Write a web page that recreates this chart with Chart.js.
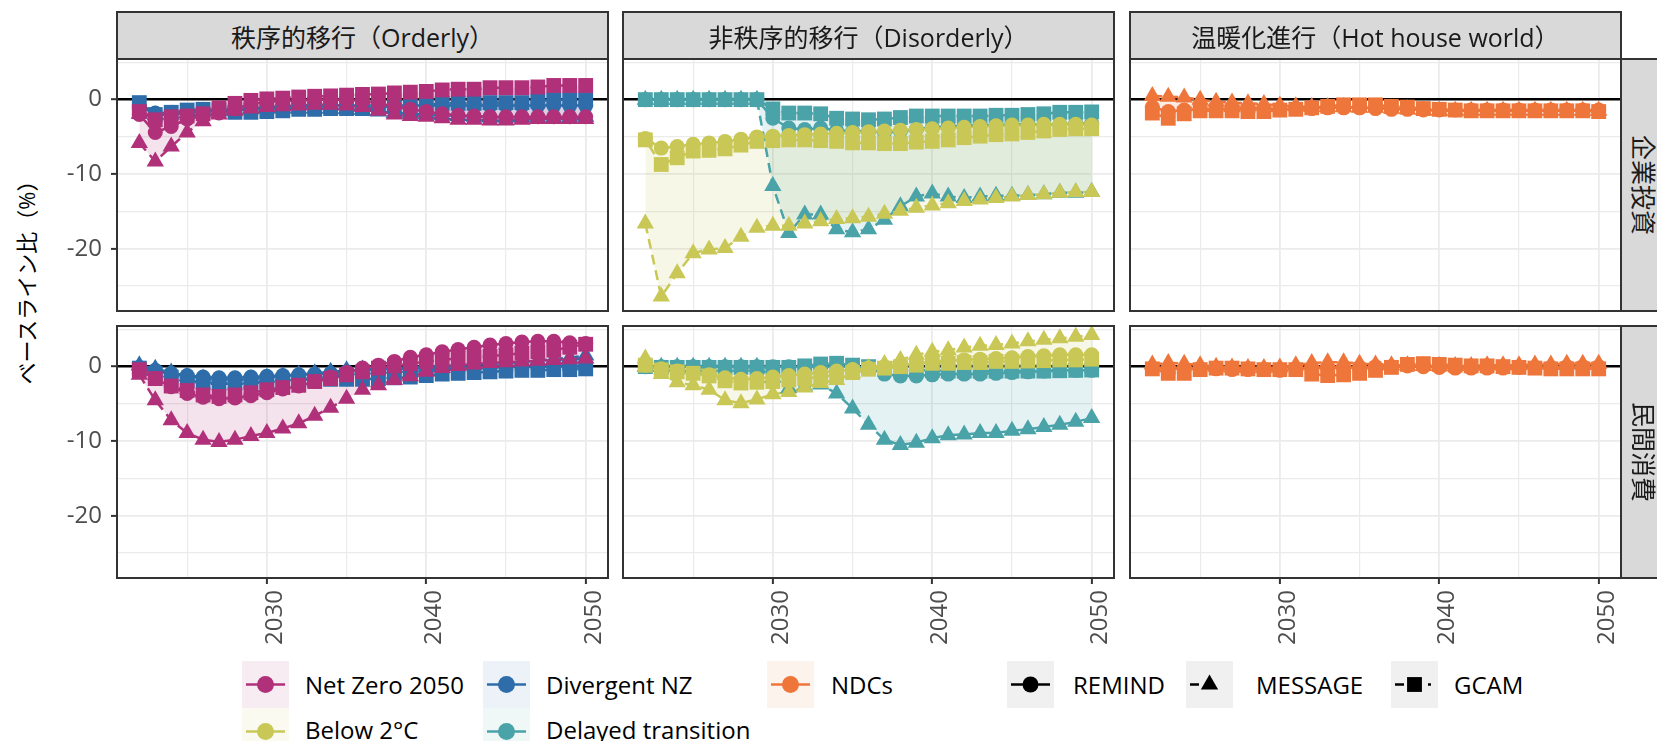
<!DOCTYPE html>
<html lang="ja">
<head>
<meta charset="utf-8">
<script src="https://cdn.jsdelivr.net/npm/chart.js@4/dist/chart.umd.min.js"></script>
<style>
  html, body { margin: 0; padding: 0; background: #fff; }
  body { width: 1657px; height: 741px; position: relative; overflow: hidden;
         font-family: "Open Sans", "Noto Sans CJK JP", sans-serif; }
  canvas { position: absolute; display: block; }
  .strip { position: absolute; box-sizing: border-box; background: #D9D9D9;
           border: 2px solid #333333; color: #1A1A1A; font-size: 25px;
           display: flex; align-items: center; justify-content: center; white-space: nowrap; }
  .strip .rot { display: inline-block; transform: rotate(90deg); }
  #ytitle { position: absolute; left: 25px; top: 277px; transform: translate(-50%, -50%) rotate(-90deg);
            font-size: 22px; color: #000; white-space: nowrap; }
  .lgtext { position: absolute; font-size: 24px; color: #000; white-space: nowrap; transform: translateY(-50%); }
</style>
</head>
<body>
<div id="ytitle">ベースライン比（%）</div>
<script>
// ---- data -----------------------------------------------------------------
const years = [2022, 2023, 2024, 2025, 2026, 2027, 2028, 2029, 2030, 2031, 2032, 2033, 2034, 2035,
               2036, 2037, 2038, 2039, 2040, 2041, 2042, 2043, 2044, 2045, 2046, 2047, 2048, 2049, 2050];

const columnTitles = ['秩序的移行（Orderly）', '非秩序的移行（Disorderly）', '温暖化進行（Hot house world）'];
const rowTitles = ['企業投資', '民間消費'];
const scenarioNames = ['Net Zero 2050', 'Below 2°C', 'Divergent NZ', 'Delayed transition', 'NDCs'];
const modelNames = ['REMIND', 'MESSAGE', 'GCAM'];
const yTickValues = [0, -10, -20];
const xTickValues = [2030, 2040, 2050];

// Orderly – 企業投資
const nzInvRemind  = [-2.0,-4.4,-3.6,-2.6,-2.2,-1.8,-1.2,-0.6,-0.3,-0.2,-0.1,0.0,0.0,0.0,-0.2,-0.5,-0.9,-1.3,-1.6,-1.9,-2.1,-2.2,-2.3,-2.3,-2.3,-2.3,-2.3,-2.3,-2.3];
const nzInvMessage = [-5.8,-8.3,-6.3,-4.4,-2.9,-2.0,-1.5,-1.2,-1.0,-0.9,-0.8,-0.7,-0.7,-0.8,-1.0,-1.5,-2.0,-2.2,-2.3,-2.5,-2.7,-2.7,-2.8,-2.8,-2.7,-2.6,-2.6,-2.6,-2.6];
const nzInvGcam    = [-1.6,-2.7,-2.3,-2.2,-1.9,-1.1,-0.5,-0.1,0.1,0.2,0.35,0.45,0.5,0.6,0.7,0.75,0.9,1.0,1.1,1.3,1.4,1.4,1.6,1.6,1.6,1.7,1.9,1.9,1.9];
const divInvRemind  = [-1.0,-1.8,-1.8,-1.6,-1.5,-1.4,-1.3,-1.2,-1.1,-1.0,-0.9,-0.9,-0.8,-0.8,-0.8,-0.8,-0.8,-0.8,-0.8,-0.8,-0.8,-0.8,-0.8,-0.8,-0.8,-0.8,-0.8,-0.8,-0.8];
const divInvMessage = [-1.9,-2.1,-2.0,-1.8,-1.6,-1.5,-1.4,-1.3,-1.2,-1.2,-1.2,-1.2,-1.2,-1.3,-1.4,-1.6,-1.8,-1.9,-2.0,-2.1,-2.2,-2.3,-2.4,-2.4,-2.4,-2.4,-2.4,-2.4,-2.3];
const divInvGcam    = [-0.4,-2.0,-1.7,-1.4,-1.3,-1.4,-1.7,-1.7,-1.6,-1.5,-1.3,-1.3,-1.2,-1.2,-1.2,-1.0,-0.9,-0.8,-0.7,-0.5,-0.5,-0.5,-0.4,-0.4,-0.4,-0.2,0.0,0.0,0.0];

// Orderly – 民間消費
const nzConRemind  = [-0.5,-1.6,-2.7,-3.6,-4.1,-4.3,-4.2,-3.9,-3.5,-3.0,-2.6,-2.0,-1.4,-0.8,-0.2,0.2,0.7,1.25,1.6,2.0,2.3,2.6,2.9,3.1,3.3,3.4,3.4,3.2,3.1];
const nzConMessage = [-1.1,-4.5,-7.2,-8.9,-9.8,-10.1,-9.8,-9.3,-8.9,-8.3,-7.6,-6.6,-5.5,-4.3,-3.1,-2.5,-1.8,-1.3,-0.7,-0.2,0.1,0.3,0.5,0.6,0.7,0.8,0.9,1.0,1.1];
const nzConGcam    = [-0.4,-1.6,-2.6,-3.2,-3.8,-4.0,-3.8,-3.5,-3.1,-2.8,-2.5,-2.0,-1.6,-1.1,-0.7,-0.2,0.1,0.4,0.7,0.9,1.1,1.25,1.4,1.6,1.8,2.0,2.2,2.6,3.0];
const divConRemind  = [-0.1,-0.5,-0.9,-1.2,-1.4,-1.5,-1.5,-1.4,-1.3,-1.2,-1.1,-1.0,-0.9,-0.7,-0.5,-0.4,-0.3,-0.3,-0.2,-0.2,-0.1,-0.1,0.0,0.0,0.0,0.0,0.1,0.1,0.1];
const divConMessage = [0.2,-0.3,-0.8,-1.3,-1.6,-1.8,-1.8,-1.7,-1.5,-1.3,-1.1,-0.9,-0.7,-0.5,-0.4,-0.3,-0.2,-0.1,0.0,0.1,0.2,0.3,0.4,0.5,0.6,0.8,1.0,1.2,1.5];
const divConGcam    = [-0.2,-0.9,-1.4,-1.9,-2.1,-2.2,-2.2,-2.1,-2.0,-1.9,-1.8,-1.7,-1.7,-1.7,-1.7,-1.6,-1.5,-1.4,-1.2,-1.0,-0.9,-0.8,-0.7,-0.6,-0.5,-0.5,-0.4,-0.4,-0.3];

// Disorderly – 企業投資
const b2InvRemind  = [-5.2,-6.5,-6.3,-6.0,-5.8,-5.6,-5.3,-5.0,-4.9,-4.8,-4.7,-4.6,-4.5,-4.4,-4.3,-4.2,-4.1,-4.0,-3.9,-3.8,-3.7,-3.6,-3.5,-3.4,-3.4,-3.3,-3.3,-3.3,-3.4];
const b2InvMessage = [-16.6,-26.4,-23.3,-20.6,-20.1,-19.9,-18.4,-17.2,-16.9,-16.9,-16.6,-16.3,-16.0,-15.9,-15.7,-15.3,-14.9,-14.5,-14.2,-13.9,-13.6,-13.4,-13.2,-13.0,-12.8,-12.7,-12.5,-12.4,-12.4];
const b2InvGcam    = [-5.4,-8.7,-7.8,-6.9,-6.8,-6.6,-6.1,-5.6,-5.5,-5.4,-5.4,-5.5,-5.6,-5.8,-5.8,-5.9,-5.9,-5.7,-5.6,-5.4,-5.1,-4.9,-4.7,-4.6,-4.4,-4.2,-4.0,-3.9,-3.9];
const dtInvRemind  = [0,0,0,0,0,0,0,0,-2.5,-3.8,-4.0,-3.8,-4.1,-4.25,-4.25,-4.4,-4.25,-4.0,-3.7,-3.6,-3.5,-3.4,-3.4,-3.35,-3.3,-3.3,-3.3,-3.2,-3.2];
const dtInvMessage = [0,0,0,0,0,0,0,0,-11.6,-17.9,-15.4,-15.4,-17.4,-17.8,-17.4,-16.1,-14.3,-13.0,-12.6,-13.0,-13.2,-13.0,-12.9,-12.9,-12.8,-12.7,-12.5,-12.5,-12.4];
const dtInvGcam    = [0,0,0,0,0,0,0,0,-1.25,-1.8,-1.8,-1.9,-2.5,-2.6,-2.7,-2.6,-2.4,-2.2,-2.2,-2.2,-2.2,-2.2,-2.1,-2.1,-2.0,-1.9,-1.7,-1.7,-1.65];

// Disorderly – 民間消費
const b2ConRemind  = [0.2,-0.3,-0.6,-0.9,-1.1,-1.5,-1.7,-1.6,-1.4,-1.2,-1.0,-0.8,-0.6,-0.4,-0.2,0.0,0.2,0.4,0.7,0.8,0.9,1.0,1.1,1.2,1.35,1.45,1.6,1.6,1.6];
const b2ConMessage = [1.1,-1.0,-2.1,-2.5,-3.1,-4.5,-4.9,-4.4,-3.7,-3.4,-2.8,-2.2,-1.8,-0.9,-0.2,0.35,0.9,1.6,2.0,2.2,2.55,2.8,2.9,3.1,3.4,3.6,3.8,4.0,4.25];
const b2ConGcam    = [0.2,-0.45,-0.7,-0.9,-1.25,-1.9,-2.2,-2.1,-2.0,-1.8,-1.6,-1.35,-1.1,-0.8,-0.35,-0.2,0.0,0.2,0.45,0.45,0.55,0.55,0.7,0.7,0.75,0.8,0.9,0.9,1.0];
const dtConRemind  = [0,0,0,0,0,0,0,0,0,0,0,0,0,0,-0.1,-1.0,-1.25,-1.25,-1.1,-1.0,-1.0,-1.0,-0.9,-0.8,-0.7,-0.6,-0.5,-0.5,-0.5];
const dtConMessage = [0,0,0,0,0,0,0,0,-1.5,-2.9,-2.7,-2.4,-3.6,-5.6,-7.8,-9.8,-10.5,-10.2,-9.6,-9.2,-9.1,-8.9,-8.9,-8.6,-8.4,-8.1,-7.8,-7.4,-6.9];
const dtConGcam    = [0,-0.1,-0.1,-0.1,-0.1,-0.1,-0.1,-0.1,-0.1,-0.1,0.1,0.35,0.45,0.2,0.0,-0.3,-0.4,-0.5,-0.5,-0.6,-0.6,-0.6,-0.6,-0.6,-0.6,-0.6,-0.55,-0.5,-0.45];

// Hot house world – 企業投資
const ndcInvRemind  = [-1.0,-1.6,-1.4,-1.3,-1.3,-1.3,-1.3,-1.3,-1.3,-1.2,-1.2,-1.1,-1.1,-1.1,-1.2,-1.3,-1.3,-1.4,-1.4,-1.4,-1.4,-1.4,-1.4,-1.4,-1.4,-1.4,-1.4,-1.4,-1.4];
const ndcInvMessage = [0.5,0.4,0.3,0.0,-0.3,-0.4,-0.5,-0.6,-0.8,-0.9,-1.0,-1.0,-1.0,-1.1,-1.1,-1.2,-1.3,-1.4,-1.5,-1.5,-1.5,-1.5,-1.5,-1.5,-1.5,-1.5,-1.5,-1.5,-1.5];
const ndcInvGcam    = [-1.8,-2.5,-1.9,-1.5,-1.5,-1.5,-1.6,-1.6,-1.4,-1.3,-1.1,-0.9,-0.7,-0.7,-0.7,-0.9,-1.0,-1.2,-1.3,-1.4,-1.5,-1.5,-1.5,-1.5,-1.5,-1.5,-1.5,-1.5,-1.6];

// Hot house world – 民間消費
const ndcConRemind  = [-0.2,-0.3,-0.3,-0.3,-0.3,-0.4,-0.4,-0.4,-0.5,-0.3,-0.2,-0.2,-0.2,-0.1,0.0,0.0,0.1,0.0,-0.1,-0.2,-0.2,-0.2,-0.2,-0.1,-0.1,-0.1,0.0,0.0,0.0];
const ndcConMessage = [0.3,0.5,0.4,0.2,0.0,-0.1,-0.2,-0.2,-0.1,0.2,0.5,0.6,0.6,0.4,0.3,0.2,0.2,0.1,0.1,0.1,0.1,0.2,0.2,0.2,0.3,0.3,0.4,0.4,0.4];
const ndcConGcam    = [-0.3,-0.9,-0.9,-0.4,-0.2,-0.2,-0.3,-0.4,-0.4,-0.4,-1.0,-1.2,-1.1,-0.9,-0.5,-0.1,0.3,0.4,0.3,0.2,0.1,0.1,0.0,-0.1,-0.2,-0.3,-0.3,-0.3,-0.3];

// ---- styling ----------------------------------------------------------------
const scenarioColors = ['#B0317A', '#C9C857', '#2E6DA9', '#4AA3A8', '#EE763B'];
const modelStyles = [
  { shape: 'circle',   radius: 7.5,  dash: [] },
  { shape: 'triangle', radius: 10,   dash: [10, 6] },
  { shape: 'rect',     radius: 10.5, dash: [2, 5, 10, 5] }
];
const FONT = '"Open Sans", "Noto Sans CJK JP", sans-serif';
Chart.defaults.font.family = FONT;

// facet layout (plot areas in page pixels)
const colLeft = [117, 623, 1130];
const rowTop = [59, 326];
const PW = 491, PH = 252;
const Y_MIN = -28.35, Y_MAX = 5.45, X_MIN = 2020.6, X_MAX = 2051.4;

// panel contents: scenario index + series per model (REMIND, MESSAGE, GCAM)
// groups are listed bottom-most first
const panels = [
  { row: 0, col: 0, groups: [[2, [divInvRemind, divInvMessage, divInvGcam]], [0, [nzInvRemind, nzInvMessage, nzInvGcam]]] },
  { row: 0, col: 1, groups: [[3, [dtInvRemind, dtInvMessage, dtInvGcam]], [1, [b2InvRemind, b2InvMessage, b2InvGcam]]] },
  { row: 0, col: 2, groups: [[4, [ndcInvRemind, ndcInvMessage, ndcInvGcam]]] },
  { row: 1, col: 0, groups: [[2, [divConRemind, divConMessage, divConGcam]], [0, [nzConRemind, nzConMessage, nzConGcam]]] },
  { row: 1, col: 1, groups: [[3, [dtConRemind, dtConMessage, dtConGcam]], [1, [b2ConRemind, b2ConMessage, b2ConGcam]]] },
  { row: 1, col: 2, groups: [[4, [ndcConRemind, ndcConMessage, ndcConGcam]]] }
];

function rgba(hex, a) {
  const n = parseInt(hex.slice(1), 16);
  return `rgba(${(n >> 16) & 255},${(n >> 8) & 255},${n & 255},${a})`;
}
const toXY = arr => years.map((yr, i) => ({ x: yr, y: arr[i] }));

function buildDatasets(groups) {
  const ribbons = [], lines = [], points = [];
  groups.forEach(([si, series], gi) => {
    const color = scenarioColors[si];
    const hi = years.map((_, i) => Math.max(...series.map(s => s[i])));
    const lo = years.map((_, i) => Math.min(...series.map(s => s[i])));
    // ribbon spanning the model range
    ribbons.push({ data: toXY(hi), fill: '+1', backgroundColor: rgba(color, 0.14), borderWidth: 0,
                   borderColor: 'rgba(0,0,0,0)', pointRadius: 0, order: 300 - gi });
    ribbons.push({ data: toXY(lo), fill: false, borderWidth: 0, borderColor: 'rgba(0,0,0,0)',
                   pointRadius: 0, order: 300 - gi });
    series.forEach((s, mi) => {
      const st = modelStyles[mi];
      lines.push({ data: toXY(s), borderColor: color, borderWidth: 2.5, borderDash: st.dash,
                   pointRadius: 0, fill: false, tension: 0, order: 200 - gi * 10 - mi });
      points.push({ data: toXY(s), showLine: false, pointStyle: st.shape, pointRadius: st.radius,
                    pointBackgroundColor: color, pointBorderWidth: 0, pointBorderColor: color,
                    fill: false, order: 100 - gi * 10 - mi });
    });
  });
  return [...ribbons, ...lines, ...points];
}

const panelFrame = {
  id: 'panelFrame',
  afterDraw(chart) {
    const { ctx, chartArea: a } = chart;
    ctx.save();
    ctx.strokeStyle = '#333333';
    ctx.lineWidth = 2;
    ctx.strokeRect(a.left, a.top, a.right - a.left, a.bottom - a.top);
    ctx.restore();
  }
};

const isMajor = v => Math.abs(Math.round(v) % 10) === 0 && Math.abs(v - Math.round(v)) < 1e-6;
// fixed axis band sizes, so every facet gets an identical plot area
const fixBand = (size, horizontal) => s => {
  if (horizontal) s.height = size; else s.width = size;
  s.paddingTop = 0; s.paddingBottom = 0; s.paddingLeft = 0; s.paddingRight = 0;
};

panels.forEach(p => {
  const showY = p.col === 0, showX = p.row === 1;
  const yAxisW = showY ? 80 : 0, xAxisH = showX ? 70 : 0, pad = 2;
  const cv = document.createElement('canvas');
  const w = pad + yAxisW + PW + pad, h = pad + PH + xAxisH + pad;
  cv.width = w; cv.height = h;
  cv.style.width = w + 'px'; cv.style.height = h + 'px';
  cv.style.left = (colLeft[p.col] - yAxisW - pad) + 'px';
  cv.style.top = (rowTop[p.row] - pad) + 'px';
  document.body.appendChild(cv);

  new Chart(cv, {
    type: 'line',
    data: { datasets: buildDatasets(p.groups) },
    options: {
      responsive: false, animation: false, devicePixelRatio: 1, events: [],
      layout: { padding: pad, autoPadding: false },
      plugins: { legend: { display: false }, tooltip: { enabled: false }, filler: { propagate: false } },
      scales: {
        x: {
          type: 'linear', position: 'bottom', min: X_MIN, max: X_MAX,
          afterFit: fixBand(xAxisH, true),
          border: { display: false },
          grid: {
            color: '#EBEBEB',
            lineWidth: c => (c.tick && isMajor(c.tick.value)) ? 1.8 : 1.2,
            drawTicks: showX, tickLength: 6, tickWidth: 2,
            tickColor: c => (c.tick && isMajor(c.tick.value)) ? '#333333' : 'rgba(0,0,0,0)'
          },
          ticks: {
            display: showX, stepSize: 5, includeBounds: false, autoSkip: false,
            minRotation: 90, maxRotation: 90, padding: 6, labelOffset: 8,
            color: '#4D4D4D', font: { size: 24, family: FONT },
            callback: v => xTickValues.includes(Math.round(v)) && isMajor(v) ? String(Math.round(v)) : ''
          }
        },
        y: {
          type: 'linear', position: 'left', min: Y_MIN, max: Y_MAX,
          afterFit: fixBand(yAxisW, false),
          border: { display: false },
          grid: {
            color: c => (c.tick && Math.abs(c.tick.value) < 1e-9) ? '#000000' : '#EBEBEB',
            lineWidth: c => {
              if (!c.tick) return 1.2;
              if (Math.abs(c.tick.value) < 1e-9) return 2.4;
              return isMajor(c.tick.value) ? 1.8 : 1.2;
            },
            drawTicks: showY, tickLength: 6, tickWidth: 2,
            tickColor: c => (c.tick && isMajor(c.tick.value)) ? '#333333' : 'rgba(0,0,0,0)'
          },
          ticks: {
            display: showY, stepSize: 5, includeBounds: false, padding: 9,
            color: '#4D4D4D', font: { size: 24, family: FONT },
            callback: v => yTickValues.includes(Math.round(v)) && isMajor(v) ? String(Math.round(v)) : ''
          }
        }
      }
    },
    plugins: [panelFrame]
  });
});

// ---- facet strips ---------------------------------------------------------------
columnTitles.forEach((t, c) => {
  const d = document.createElement('div');
  d.className = 'strip';
  Object.assign(d.style, { left: (colLeft[c] - 1) + 'px', top: '11px', width: (PW + 2) + 'px',
                           height: (rowTop[0] + 1 - 11) + 'px' });
  d.textContent = t;
  document.body.appendChild(d);
});
rowTitles.forEach((t, r) => {
  const d = document.createElement('div');
  d.className = 'strip';
  Object.assign(d.style, { left: (colLeft[2] + PW - 1) + 'px', top: (rowTop[r] - 1) + 'px',
                           width: '50px', height: (PH + 2) + 'px' });
  const s = document.createElement('span');
  s.className = 'rot';
  s.textContent = t;
  d.appendChild(s);
  document.body.appendChild(d);
});

// ---- legend -----------------------------------------------------------------------
function drawShape(ctx, shape, x, y, r) {
  ctx.beginPath();
  if (shape === 'circle') {
    ctx.arc(x, y, r, 0, Math.PI * 2);
  } else if (shape === 'triangle') {
    ctx.moveTo(x, y - r);
    ctx.lineTo(x + r * Math.sin(2 * Math.PI / 3), y - r * Math.cos(2 * Math.PI / 3));
    ctx.lineTo(x + r * Math.sin(4 * Math.PI / 3), y - r * Math.cos(4 * Math.PI / 3));
    ctx.closePath();
  } else {
    const hs = r * Math.SQRT1_2;
    ctx.rect(x - hs, y - hs, 2 * hs, 2 * hs);
  }
  ctx.fill();
}

const KEY = 47;
function legendKey(x, y, bg, color, shape, radius, lineKind) {
  const cv = document.createElement('canvas');
  cv.width = KEY; cv.height = KEY;
  Object.assign(cv.style, { left: x + 'px', top: y + 'px', width: KEY + 'px', height: KEY + 'px' });
  document.body.appendChild(cv);
  const ctx = cv.getContext('2d');
  ctx.fillStyle = bg;
  ctx.fillRect(0, 0, KEY, KEY);
  ctx.strokeStyle = color;
  ctx.lineWidth = 2.5;
  const c = KEY / 2;
  const seg = (a, b) => { ctx.beginPath(); ctx.moveTo(a, c); ctx.lineTo(b, c); ctx.stroke(); };
  if (lineKind === 'solid') seg(4, KEY - 4);
  else if (lineKind === 'dashed') { seg(4, 13); seg(20, 28); }
  else { seg(4, 13); seg(37, 40); }
  ctx.fillStyle = color;
  drawShape(ctx, shape, c, c, radius);
}
function legendText(x, yc, text) {
  const d = document.createElement('div');
  d.className = 'lgtext';
  d.style.left = x + 'px';
  d.style.top = yc + 'px';
  d.textContent = text;
  document.body.appendChild(d);
}

// scenario entries, filled column by column in two rows
const scenarioKeyX = [242, 483, 767], scenarioTextX = [305, 546, 831];
const keyRowTop = [661, 708], textRowY = [684, 729];
scenarioNames.forEach((name, i) => {
  const col = Math.floor(i / 2), row = i % 2;
  legendKey(scenarioKeyX[col], keyRowTop[row], rgba(scenarioColors[i], 0.09), scenarioColors[i], 'circle', 8.5, 'solid');
  legendText(scenarioTextX[col], textRowY[row], name);
});
// model entries
const modelKeyX = [1007, 1186, 1391], modelTextX = [1073, 1256, 1454];
const modelLine = ['solid', 'dashed', 'dotdash'];
modelNames.forEach((name, i) => {
  const st = modelStyles[i];
  legendKey(modelKeyX[i], keyRowTop[0], '#F0F0F0', '#000000', st.shape,
            st.shape === 'circle' ? 8 : st.radius, modelLine[i]);
  legendText(modelTextX[i], textRowY[0], name);
});
</script>
</body>
</html>
